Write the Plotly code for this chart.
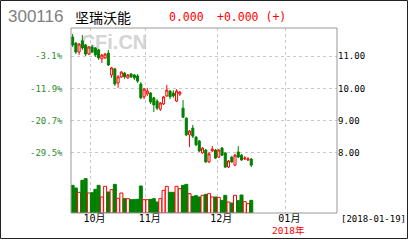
import plotly.graph_objects as go
import pandas as pd

# ---------------- data ----------------
holidays = ["2017-10-02", "2017-10-03", "2017-10-04", "2017-10-05", "2017-10-06", "2018-01-01"]
calendar = [d for d in pd.bdate_range("2017-09-22", "2018-01-19")
            if d.strftime("%Y-%m-%d") not in holidays]

open_ = [11.60, 11.41, 11.13, 11.48, 11.35, 11.07, 11.29, 11.26, 11.20, 10.92,
         10.95, 11.10, 10.42, 10.61, 10.17, 10.36, 10.48, 10.33, 10.45, 10.42,
         10.39, 10.14, 9.74, 9.83, 9.86, 9.71, 9.61, 9.36, 9.52, 9.77,
         9.92, 9.86, 9.61, 9.83, 9.39, 9.08, 8.56, 8.77, 8.49, 8.37,
         8.00, 8.09, 7.72, 8.06, 8.09, 7.87, 8.15, 8.00, 7.56, 7.87,
         7.62, 8.03, 7.93, 7.81, 7.78, 7.81]
high = [11.69, 11.44, 11.41, 11.66, 11.38, 11.32, 11.35, 11.29, 11.23, 11.07,
        11.10, 11.20, 10.67, 10.64, 10.42, 10.54, 10.51, 10.45, 10.48, 10.45,
        10.45, 10.20, 10.02, 10.02, 9.89, 9.74, 9.67, 9.58, 9.77, 10.11,
        9.95, 9.95, 9.98, 9.92, 9.64, 9.11, 8.71, 8.87, 8.52, 8.40,
        8.18, 8.12, 8.03, 8.21, 8.12, 8.12, 8.18, 8.03, 7.78, 7.90,
        7.97, 8.21, 7.97, 7.90, 7.87, 7.84]
low = [11.29, 11.07, 11.04, 11.20, 11.01, 11.04, 11.10, 10.98, 10.89, 10.79,
       10.92, 10.70, 10.33, 10.08, 10.02, 10.33, 10.30, 10.30, 10.33, 10.26,
       10.17, 9.67, 9.67, 9.77, 9.52, 9.27, 9.33, 9.30, 9.49, 9.74,
       9.67, 9.71, 9.58, 9.77, 9.08, 8.52, 8.18, 8.46, 8.21, 8.03,
       7.97, 7.69, 7.69, 8.03, 7.81, 7.84, 7.90, 7.53, 7.53, 7.69,
       7.59, 7.84, 7.75, 7.78, 7.75, 7.56]
close = [11.35, 11.13, 11.38, 11.26, 11.07, 11.29, 11.13, 11.04, 10.95, 11.04,
         11.07, 10.73, 10.64, 10.14, 10.36, 10.51, 10.36, 10.42, 10.36, 10.33,
         10.23, 9.71, 9.98, 9.92, 9.58, 9.49, 9.39, 9.55, 9.74, 9.95,
         9.74, 9.77, 9.92, 9.89, 9.11, 8.56, 8.68, 8.52, 8.25, 8.06,
         8.15, 7.72, 7.97, 8.12, 7.84, 8.09, 7.93, 7.56, 7.75, 7.72,
         7.93, 7.87, 7.78, 7.84, 7.81, 7.62]
volume = [83, 75, 62, 98, 103, 60, 61, 71, 83, 48,
          80, 63, 70, 86, 44, 60, 43, 43, 40, 40,
          41, 81, 40, 40, 41, 43, 33, 43, 68, 80,
          62, 62, 80, 73, 83, 86, 58, 50, 52, 48,
          53, 56, 58, 48, 48, 47, 38, 53, 33, 30,
          53, 37, 54, 34, 28, 38]

price_ticks = [8, 9, 10, 11]
price_labels = ["8.00", "9.00", "10.00", "11.00"]
pct_labels = ["-29.5%", "-20.7%", "-11.9%", "-3.1%"]

stock_code = "300116"
stock_name = "坚瑞沃能"
last_price = "0.000"
change_text = "+0.000 (+)"
date_label = "[2018-01-19]"
year_label = "2018年"

# ---------------- derived ----------------
n = len(close)
x = list(range(n))
month_idx = [i for i in range(1, len(calendar)) if calendar[i].month != calendar[i - 1].month]
month_tickvals = [i - 0.5 for i in month_idx]
month_ticktext = [f"{calendar[i].month:02d}月" for i in month_idx]

GREEN = "#008000"
RED = "#ff0000"
up = [c >= o for o, c in zip(open_, close)]
vol_fill = ["#ffffff" if u else GREEN for u in up]
vol_line = [RED if u else GREEN for u in up]

# geometry helpers (pixel -> paper)
W, H = 408, 240
L, R, T, B = 71, 71, 28, 27
PW, PH = W - L - R, H - T - B


def px(xp):
    return (xp - L) / PW


def py(yp):
    return (H - B - yp) / PH


vol_frac = py(170)

mono = "DejaVu Sans Mono, Noto Sans CJK SC, monospace"

fig = go.Figure()
fig.add_trace(go.Candlestick(
    x=x, open=open_, high=high, low=low, close=close,
    increasing=dict(line=dict(color=RED, width=1), fillcolor="#ffffff"),
    decreasing=dict(line=dict(color=GREEN, width=1), fillcolor=GREEN),
    whiskerwidth=0, xaxis="x", yaxis="y", hoverinfo="skip",
))
fig.add_trace(go.Bar(
    x=x, y=volume,
    marker=dict(color=vol_fill, line=dict(color=vol_line, width=1)),
    xaxis="x", yaxis="y2", hoverinfo="skip",
))

fig.update_layout(
    width=W, height=H,
    margin=dict(l=L, r=R, t=T, b=B, pad=0),
    paper_bgcolor="#ffffff", plot_bgcolor="#ffffff",
    showlegend=False, bargap=0.08, boxgap=0.1,
    xaxis=dict(
        range=[-0.5, 81.4], anchor="y2",
        tickvals=month_tickvals, ticktext=month_ticktext,
        showgrid=True, gridcolor="#c8c8c8", griddash="dot", gridwidth=1,
        zeroline=False, showline=False, ticks="",
        tickfont=dict(family=mono, size=10, color="#000000"),
        ticklabelshift=4, ticklabelstandoff=-2,
        rangeslider=dict(visible=False), fixedrange=True,
    ),
    yaxis=dict(
        domain=[vol_frac, 1], range=[7.469, 11.879], side="right",
        tickvals=price_ticks, ticktext=price_labels,
        showgrid=True, gridcolor="#c8c8c8", griddash="dot", gridwidth=1,
        zeroline=False, showline=False, ticks="",
        tickfont=dict(family=mono, size=9, color="#000000"),
        ticklabelstandoff=0, fixedrange=True,
    ),
    yaxis2=dict(
        domain=[0, vol_frac], range=[0, 129],
        showgrid=False, zeroline=False, showticklabels=False, ticks="",
        fixedrange=True,
    ),
)

shapes = [
    # watermark
    dict(type="rect", xref="paper", yref="paper",
         x0=px(78), x1=px(150), y0=py(48), y1=py(31),
         line=dict(width=0), fillcolor="rgba(0,0,0,0)", layer="below",
         label=dict(text="<b>CFi.CN</b>", textposition="middle center",
                    font=dict(family="Liberation Sans, Arial", size=20, color="#d4d4d4"))),
    # plot frame
    dict(type="rect", xref="paper", yref="paper", x0=0, x1=1, y0=0, y1=1,
         line=dict(color="#999999", width=1), layer="above"),
    # outer frame
    dict(type="rect", xref="paper", yref="paper",
         x0=px(0.5), x1=px(407.5), y0=py(238.5), y1=py(0.5),
         line=dict(color="#222222", width=1), layer="above"),
]
fig.update_layout(shapes=shapes)

ann = []
ann.append(dict(text=stock_code, xref="paper", yref="paper", x=px(6), y=py(17),
                xanchor="left", yanchor="middle", showarrow=False,
                font=dict(family="Liberation Sans, Arial", size=17, color="#808080")))
ann.append(dict(text=stock_name, xref="paper", yref="paper", x=px(73), y=py(17),
                xanchor="left", yanchor="middle", showarrow=False,
                font=dict(family="Noto Sans CJK SC", size=14, color="#000000")))
ann.append(dict(text=last_price, xref="paper", yref="paper", x=px(167), y=py(17),
                xanchor="left", yanchor="middle", showarrow=False,
                font=dict(family=mono, size=11.5, color=RED)))
ann.append(dict(text=change_text, xref="paper", yref="paper", x=px(215), y=py(17),
                xanchor="left", yanchor="middle", showarrow=False,
                font=dict(family=mono, size=11.5, color=RED)))
for v, t in zip(price_ticks, pct_labels):
    ann.append(dict(text=t, xref="paper", yref="y", x=px(65), y=v,
                    xanchor="right", yanchor="middle", showarrow=False,
                    font=dict(family=mono, size=9, color="#2e8b2e")))
ann.append(dict(text=date_label, xref="paper", yref="paper", x=px(339), y=py(219),
                xanchor="left", yanchor="middle", showarrow=False,
                font=dict(family=mono, size=9, color="#000000")))
ann.append(dict(text=year_label, xref="paper", yref="paper", x=px(288), y=py(230.5),
                xanchor="center", yanchor="middle", showarrow=False,
                font=dict(family=mono, size=9.5, color=RED)))
fig.update_layout(annotations=ann)

fig.write_html("out.html")
